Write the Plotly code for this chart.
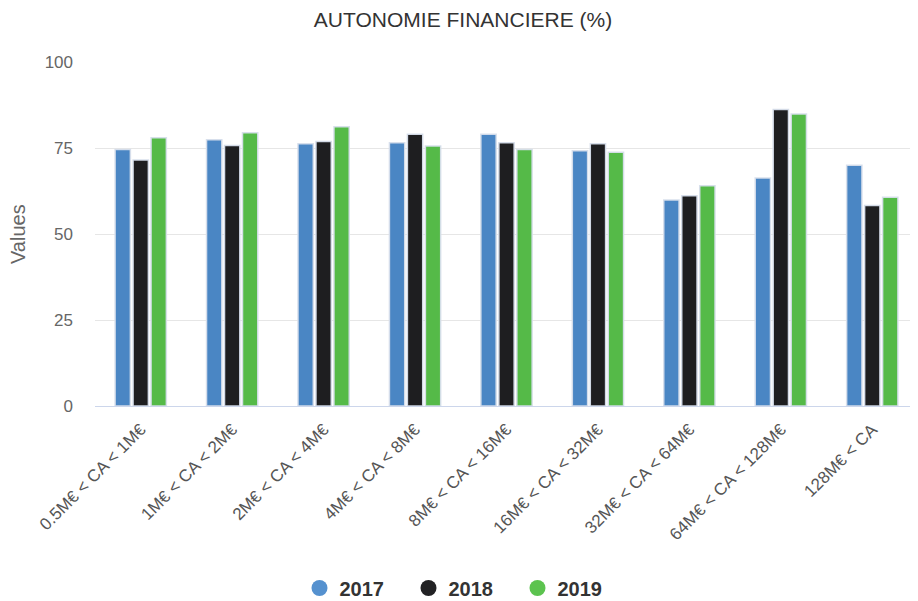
import plotly.graph_objects as go

categories = ["0.5M€ < CA < 1M€", "1M€ < CA < 2M€", "2M€ < CA < 4M€", "4M€ < CA < 8M€",
              "8M€ < CA < 16M€", "16M€ < CA < 32M€", "32M€ < CA < 64M€",
              "64M€ < CA < 128M€", "128M€ < CA"]
years = ["2017", "2018", "2019"]
v2017 = [74.6, 77.4, 76.2, 76.5, 79.0, 74.2, 59.9, 66.3, 70.0]
v2018 = [71.5, 75.7, 76.9, 79.0, 76.5, 76.2, 61.1, 86.2, 58.3]
v2019 = [78.0, 79.4, 81.2, 75.6, 74.6, 73.8, 64.0, 84.9, 60.7]
series = [v2017, v2018, v2019]
colors = ["#4a86c4", "#1e1e20", "#55ba48"]
legend_colors = ["#5591cf", "#222224", "#5cc34f"]
font = "Liberation Sans, Arial, sans-serif"

# the page body adds an 8px offset; size the figure so it fits the 918x601 window
W, H = 910, 593

fig = go.Figure()
for name, vals, c in zip(years, series, colors):
    fig.add_trace(go.Bar(x=categories, y=vals, name=name, showlegend=False,
                         marker=dict(color=c, line=dict(color="rgba(215,222,235,0.95)", width=1.5))))
for name, c in zip(years, legend_colors):
    fig.add_trace(go.Scatter(x=[None], y=[None], mode="markers", name=name,
                             marker=dict(symbol="circle", size=20, color=c)))

fig.update_layout(
    width=W, height=H,
    margin=dict(l=87, r=0, t=54, b=195, autoexpand=False),
    paper_bgcolor="white", plot_bgcolor="white",
    barmode="group", bargap=0.41, bargroupgap=0.15,
    font=dict(family=font, color="#666666", size=16),
    title=dict(text="AUTONOMIE FINANCIERE (%)", x=0.5, xanchor="center", y=1 - 12 / H, yanchor="middle",
               font=dict(size=21, color="#333333", family=font)),
    legend=dict(orientation="h", xref="container", x=0.5, xanchor="center",
                yref="container", y=(H - 580) / H, yanchor="middle",
                font=dict(size=20, color="#333333", family=font, weight="bold"),
                entrywidth=64, entrywidthmode="pixels",
                itemsizing="trace", traceorder="normal"),
    xaxis=dict(type="category", tickangle=-45, showgrid=False, showline=True, automargin=False,
               linecolor="#ccd6eb", linewidth=1, ticks="", tickfont=dict(size=17, color="#555555"),
               ticklabelstandoff=6),
    yaxis=dict(range=[0, 100], tickvals=[0, 25, 50, 75, 100], showgrid=True, gridcolor="#e6e6e6",
               zeroline=False, showline=False, ticks="", ticklen=0, automargin=False,
               tickfont=dict(size=17, color="#666666"), ticklabelstandoff=21),
    annotations=[dict(text="Values", textangle=-90, xref="paper", yref="paper",
                      x=-(87 - 10) / (W - 87), y=0.5, xanchor="center", yanchor="middle",
                      showarrow=False, font=dict(size=20, color="#666666", family=font))],
)
fig.write_html("out.html")
